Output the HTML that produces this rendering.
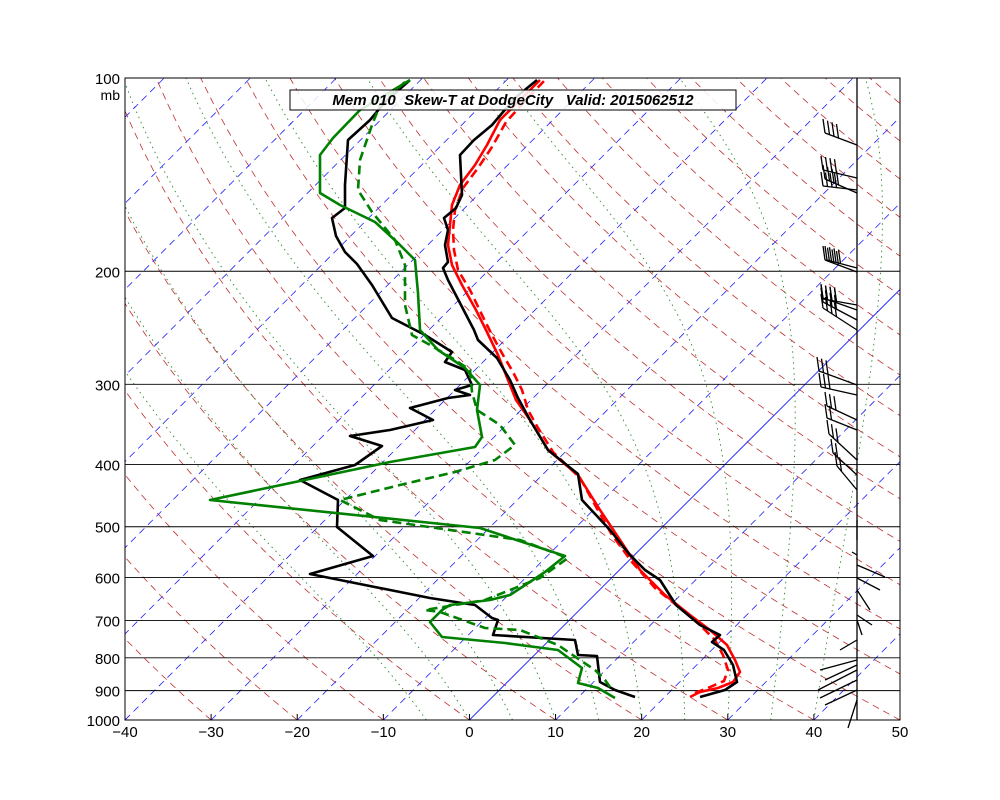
<!DOCTYPE html>
<html><head><meta charset="utf-8"><style>
html,body{margin:0;padding:0;background:#fff;width:1000px;height:800px;overflow:hidden}
svg{font-family:"Liberation Sans",sans-serif}
</style></head><body>
<svg id="s" width="1000" height="800" xmlns="http://www.w3.org/2000/svg">
<defs><clipPath id="c"><rect x="125" y="78" width="775" height="642"/></clipPath></defs>
<g id="bg" clip-path="url(#c)"></g>
<g id="data" clip-path="url(#c)" fill="none" stroke-width="2.6" stroke-linejoin="round"></g>
<g id="barbs" stroke="#000" stroke-width="1.3" fill="none"></g>
<rect x="125" y="78" width="775" height="642" fill="none" stroke="#000" stroke-width="1"/>
<line x1="857" y1="78" x2="857" y2="720" stroke="#000" stroke-width="1.3"/>
<g id="lab" font-size="15" fill="#000"></g>
<rect x="290" y="90" width="446" height="20" fill="#fff" fill-opacity="0.85" stroke="#000" stroke-width="1"/>
<text x="513" y="105" font-size="15" font-weight="bold" font-style="italic" text-anchor="middle" xml:space="preserve" style="white-space:pre">Mem 010  Skew-T at DodgeCity   Valid: 2015062512</text>
</svg>
<script>
var NS="http://www.w3.org/2000/svg";
function el(p,t,a,txt){var e=document.createElementNS(NS,t);for(var k in a)e.setAttribute(k,a[k]);if(txt!==undefined)e.textContent=txt;p.appendChild(e);return e;}
var bg=document.getElementById('bg'),data=document.getElementById('data'),lab=document.getElementById('lab'),barbs=document.getElementById('barbs');
function Y(p){return 78+642*Math.log(p/100)/Math.LN10;}
function X(T,p){return 125+(T+40)*775/90+(720-Y(p));}
function poly(pts,attrs,par){attrs.points=pts.map(function(q){return q[0].toFixed(1)+','+q[1].toFixed(1)}).join(' ');attrs.fill='none';return el(par||bg,'polyline',attrs);}
for(var th=-30;th<=200;th+=10){var pts=[];for(var p=1000;p>=100;p-=10){var T=(th+273.15)*Math.pow(p/1000,0.2857)-273.15;pts.push([X(T,p),Y(p)]);}poly(pts,{stroke:'#c03030','stroke-width':0.8,'stroke-dasharray':'7,5'});}
function es(T){return 6.112*Math.exp(17.67*T/(T+243.5));}
for(var t0=-5;t0<=40;t0+=5){var T=t0,pts=[];for(var p=1000;p>=100;p-=5){pts.push([X(T,p),Y(p)]);var Tk=T+273.15,rs=0.622*es(T)/(p-es(T));var d=(287*Tk+2.5e6*rs)/(p*(1004+2.5e6*2.5e6*rs*0.622/(287*Tk*Tk)));T-=d*5;}poly(pts,{stroke:'#2a8a2a','stroke-width':0.9,'stroke-dasharray':'1.5,4'});}
for(var T=-150;T<=50;T+=10){el(bg,'line',{x1:X(T,1000),y1:720,x2:X(T,1000)+700,y2:20,stroke:'#2020ff','stroke-width':T==0?0.9:0.8,'stroke-dasharray':T==0?'':'7,5'});}
[200,300,400,500,600,700,800,900].forEach(function(p){el(bg,'line',{x1:125,y1:Y(p),x2:900,y2:Y(p),stroke:'#000','stroke-width':0.9});});
[100,200,300,400,500,600,700,800,900,1000].forEach(function(p){el(lab,'text',{x:120,y:Y(p)+6,'text-anchor':'end'},p);});
el(lab,'text',{x:120,y:100,'text-anchor':'end','font-size':14},'mb');
for(var t=-40;t<=50;t+=10){var x=125+(t+40)*775/90;el(lab,'text',{x:x,y:737,'text-anchor':'middle'},t==0?'0':(t<0?'\u2212'+(-t):t));el(lab,'line',{x1:x,y1:720,x2:x,y2:714,stroke:'#000'});}
function P(s){return s.trim().split(/\s+/).map(function(q){return q.split(',').map(Number)});}
poly(P("690,697 700,692 718,688 733,682 740,672 735,660 727,645 710,630 690,615 665,595 640,570 620,540 600,510 578,475 548,450 530,420 516,400 510,385 498,355 486,330 476,310 462,285 452,265 448,245 450,225 452,205 460,185 475,165 487,145 500,120 520,100 540,80"),{stroke:'#f00','stroke-width':2.6},data);
poly(P("695,693 708,688 724,681 728,670 723,655 715,640 700,625 680,608 655,588 632,562 612,535 595,505 580,478 553,452 538,428 528,410 522,390 513,372 503,355 492,335 482,315 470,290 458,270 454,250 453,230 455,210 463,188 478,168 492,147 506,122 526,100 545,80"),{stroke:'#f00','stroke-width':2.6,'stroke-dasharray':'9,5'},data);
poly(P("537,80 515,98 492,125 474,140 460,155 462,195 456,208 444,218 448,230 445,245 448,262 443,268 448,280 474,330 478,340 497,358 510,380 518,398 530,420 548,450 578,474 582,500 610,530 630,555 645,570 660,580 676,605 700,625 720,635 712,642 724,650 733,665 737,682 725,690 700,697"),{stroke:'#000'},data);
poly(P("410,80 385,102 370,120 348,140 345,185 345,208 332,218 336,236 345,252 357,264 372,285 392,318 425,335 452,352 445,362 465,370 472,385 455,390 470,395 448,398 410,408 433,420 390,430 350,436 382,446 355,465 300,480 338,500 337,527 373,556 310,574 430,598 475,605 492,618 498,620 493,635 575,640 578,655 597,656 600,682 615,690 635,697"),{stroke:'#000'},data);
poly(P("410,80 360,110 333,138 320,155 320,193 340,205 375,222 398,243 415,260 418,293 420,330 438,350 465,368 480,385 477,410 482,437 475,447 390,462 210,500 480,528 565,556 545,572 510,595 490,600 450,605 442,610 430,622 442,637 505,643 558,650 582,668 578,683 598,688 615,698"),{stroke:'#008000'},data);
poly(P("405,82 380,105 372,125 360,160 358,190 372,212 395,240 405,265 405,305 412,335 430,345 452,358 470,370 472,392 477,410 500,425 515,445 495,460 455,472 400,485 340,500 380,520 520,540 568,558 540,578 485,600 455,605 425,610 440,612 485,628 520,630 558,645 580,660 595,670 605,680 612,690"),{stroke:'#008000','stroke-dasharray':'9,5'},data);
function barb(y,n,dx,dy){el(barbs,'line',{x1:857,y1:y,x2:857-dx,y2:y-dy});for(var i=0;i<n;i++){var f=i*4.5,bx=857-dx+f,by=y-dy+f*dy/(dx+0.01);el(barbs,'line',{x1:bx,y1:by,x2:bx-2,y2:by-14});}}
[[145,4,32,12],[178,4,34,8],[190,4,34,4],[193,4,32,14],[268,4,30,8],[272,4,32,12],[305,4,34,6],[310,4,34,12],[320,4,34,18],[330,4,34,22]].forEach(function(b){barb(b[0],b[1],b[2],b[3]);});
[[385,3,38,14],[395,3,36,8],[420,3,30,14],[430,2,30,12],[460,3,28,26],[475,2,24,22],[490,2,20,24]].forEach(function(b){barb(b[0],b[1],b[2],b[3]);});
var lw=[[857,520,857,540],[857,555,852,552],[857,565,885,577],[857,578,880,590],[857,590,870,610],[857,615,872,625],[857,620,862,635],[857,640,840,650],[857,660,820,670],[857,665,825,680],[857,670,818,690],[857,680,820,698],[857,690,825,705],[857,700,848,728]];
lw.forEach(function(l){el(barbs,'line',{x1:l[0],y1:l[1],x2:l[2],y2:l[3]});});
</script>
</body></html>
